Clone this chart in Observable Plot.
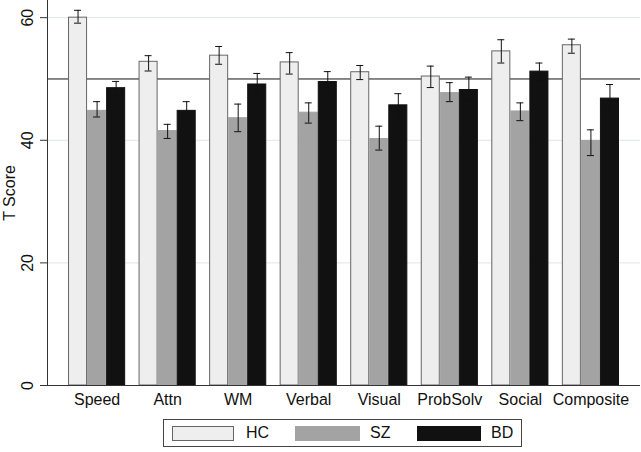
<!DOCTYPE html>
<html>
<head>
<meta charset="utf-8">
<script src="https://cdn.jsdelivr.net/npm/d3@7"></script>
<script src="https://cdn.jsdelivr.net/npm/@observablehq/plot@0.6"></script>
<style>
  html, body { margin: 0; padding: 0; background: #fff; }
  #wrap { position: relative; width: 641px; height: 452px; font-family: "Liberation Sans", Arial, Helvetica, sans-serif; }
  #legend { position: absolute; left: 163px; top: 419px; width: 357px; height: 26px; border: 1px solid #444; box-sizing: content-box; }
  .sw { position: absolute; top: 6px; height: 15px; box-sizing: border-box; }
  .lab { position: absolute; top: 3px; font-size: 16px; line-height: 20px; color: #111; }
</style>
</head>
<body>
<div id="wrap"><div id="chart"></div>
<div id="legend"></div>
</div>
<script>
const categories = ["Speed","Attn","WM","Verbal","Visual","ProbSolv","Social","Composite"];
const groups = ["HC","SZ","BD"];
const hcMean = [60.0,52.8,53.8,52.7,51.1,50.4,54.5,55.5];
const hcLow  = [59.1,51.3,52.4,50.8,49.9,48.6,52.6,54.2];
const hcHigh = [61.2,53.8,55.3,54.3,52.2,52.1,56.4,56.5];
const szMean = [44.8,41.5,43.6,44.5,40.2,47.7,44.7,39.9];
const szLow  = [43.8,40.3,41.4,42.8,38.4,46.3,43.2,37.5];
const szHigh = [46.3,42.6,45.9,46.1,42.3,49.4,46.1,41.7];
const bdMean = [48.5,44.8,49.1,49.5,45.7,48.2,51.2,46.8];
const bdLow  = [47.3,43.6,47.8,48.0,43.3,46.5,49.6,44.9];
const bdHigh = [49.6,46.3,50.9,51.2,47.6,50.3,52.6,49.1];
const yTicks = [0, 20, 40, 60];

const series = {
  HC: {mean: hcMean, low: hcLow, high: hcHigh, fill: "#eeeeee", stroke: "#666666"},
  SZ: {mean: szMean, low: szLow, high: szHigh, fill: "#a3a3a3", stroke: "#a3a3a3"},
  BD: {mean: bdMean, low: bdLow, high: bdHigh, fill: "#111111", stroke: "#111111"}
};

const W = 641, H = 410, mL = 47, mR = 1, mT = 0, mB = 25;
const pI = 0.19, pO = 0.298;
const step = (W - mL - mR) / (categories.length - pI + 2 * pO);
const bw = step * (1 - pI);
const sub = bw / 3;
const cap = 3.5;

const marks = [
  Plot.gridY(yTicks.filter(d => d > 0), {stroke: "#dfe6e6", strokeOpacity: 1}),
  Plot.ruleY([50], {stroke: "#111", strokeWidth: 1})
];
groups.forEach((g, i) => {
  const s = series[g];
  const rows = categories.map((c, j) => ({cat: c, mean: s.mean[j], low: s.low[j], high: s.high[j]}));
  const c = sub * (i + 0.5);
  marks.push(Plot.barY(rows, {x: "cat", y: "mean", fill: s.fill, stroke: s.stroke, strokeWidth: 1,
    insetLeft: sub * i + 0.5, insetRight: sub * (2 - i) + 0.5}));
});
groups.forEach((g, i) => {
  const s = series[g];
  const rows = categories.map((c, j) => ({cat: c, mean: s.mean[j], low: s.low[j], high: s.high[j]}));
  const c = sub * (i + 0.5);
  marks.push(Plot.ruleX(rows, {x: "cat", y1: "low", y2: "high", dx: c - bw / 2, stroke: "#111", strokeWidth: 1}));
  marks.push(Plot.tickY(rows, {x: "cat", y: "high", insetLeft: c - cap, insetRight: bw - c - cap, stroke: "#111", strokeWidth: 1}));
  marks.push(Plot.tickY(rows, {x: "cat", y: "low", insetLeft: c - cap, insetRight: bw - c - cap, stroke: "#111", strokeWidth: 1}));
});
marks.push(Plot.ruleY([0], {stroke: "#333", strokeWidth: 1}));
marks.push(Plot.frame({anchor: "left", stroke: "#333"}));
marks.push(Plot.axisY(yTicks, {tickSize: 7, stroke: "#333", text: null, label: null}));
marks.push(Plot.text(yTicks, {y: d => d, text: d => String(d), frameAnchor: "left", rotate: -90, dx: -20, fontSize: 16, fill: "#111", textAnchor: "middle", lineAnchor: "middle"}));
marks.push(Plot.text(["T Score"], {frameAnchor: "left", rotate: -90, dx: -38, fontSize: 16, fill: "#111", textAnchor: "middle", lineAnchor: "middle"}));
marks.push(Plot.axisX({tickSize: 0, tickPadding: 8, fontSize: 16, label: null, fill: "#111"}));

const chart = Plot.plot({
  width: W, height: H,
  marginLeft: mL, marginRight: mR, marginTop: mT, marginBottom: mB,
  style: {fontFamily: '"Liberation Sans", Arial, Helvetica, sans-serif', fontSize: "16px", background: "#fff"},
  x: {domain: categories, type: "band", paddingInner: pI, paddingOuter: pO, round: false, label: null},
  y: {domain: [0, 62.8], label: null, axis: null},
  marks
});
document.getElementById("chart").appendChild(chart);

const legend = document.getElementById("legend");
const legendPos = [
  {g: "HC", sl: 8, sw: 62, tl: 82},
  {g: "SZ", sl: 131, sw: 65, tl: 206},
  {g: "BD", sl: 253, sw: 64, tl: 327}
];
legendPos.forEach(p => {
  const s = series[p.g];
  const sw = document.createElement("div");
  sw.className = "sw";
  sw.style.left = p.sl + "px";
  sw.style.width = p.sw + "px";
  sw.style.background = s.fill;
  sw.style.border = "1px solid " + s.stroke;
  legend.appendChild(sw);
  const lab = document.createElement("div");
  lab.className = "lab";
  lab.style.left = p.tl + "px";
  lab.textContent = p.g;
  legend.appendChild(lab);
});
</script>
</body>
</html>
